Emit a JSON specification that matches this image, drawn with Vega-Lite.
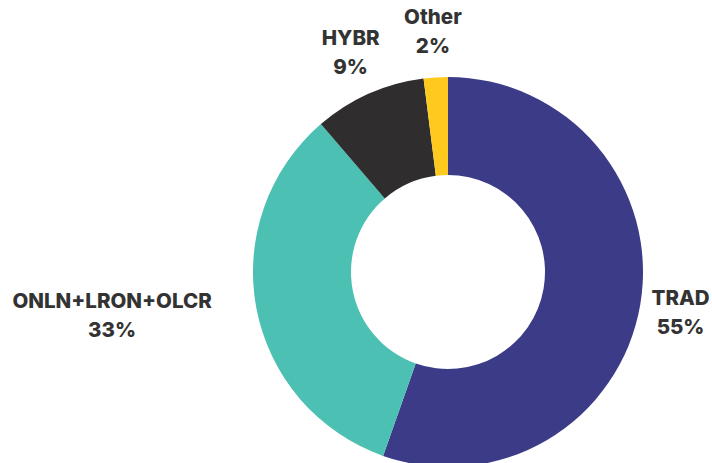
{
  "$schema": "https://vega.github.io/schema/vega-lite/v6.json",
  "width": 528,
  "height": 382,
  "autosize": "none",
  "padding": {"left": 184, "top": 81, "right": 0, "bottom": 0},
  "background": "white",
  "view": {"stroke": null},
  "data": {
    "values": [
      {"cat": "TRAD", "idx": 1, "share": 55.4, "label": "TRAD\n55%"},
      {"cat": "ONLN+LRON+OLCR", "idx": 2, "share": 33.3, "label": "ONLN+LRON+OLCR\n33%"},
      {"cat": "HYBR", "idx": 3, "share": 9.3, "label": "HYBR\n9%"},
      {"cat": "Other", "idx": 4, "share": 2.0, "label": "Other\n2%"}
    ]
  },
  "encoding": {
    "theta": {"field": "share", "type": "quantitative", "stack": true},
    "order": {"field": "idx", "type": "quantitative"}
  },
  "layer": [
    {
      "mark": {"type": "arc", "outerRadius": 195, "innerRadius": 97, "stroke": null},
      "encoding": {
        "color": {
          "field": "cat",
          "type": "nominal",
          "sort": ["TRAD", "ONLN+LRON+OLCR", "HYBR", "Other"],
          "scale": {
            "domain": ["TRAD", "ONLN+LRON+OLCR", "HYBR", "Other"],
            "range": ["#3b3b87", "#4bc0b3", "#302d2e", "#fdca1d"]
          },
          "legend": null
        }
      }
    },
    {
      "mark": {
        "type": "text",
        "radius": 240,
        "lineBreak": "\n",
        "lineHeight": 29,
        "font": "Inter",
        "fontWeight": 800,
        "fontSize": 20.5,
        "color": "#333333",
        "align": "center",
        "baseline": "middle",
        "dy": -14,
        "dx": {"expr": "datum.cat === 'ONLN+LRON+OLCR' ? -100 : (datum.cat === 'TRAD' ? -4 : 0)"}
      },
      "encoding": {
        "text": {"field": "label", "type": "nominal"}
      }
    }
  ]
}
